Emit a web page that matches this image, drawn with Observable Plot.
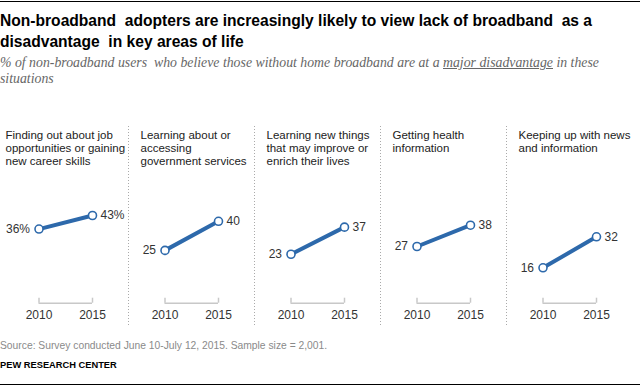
<!DOCTYPE html>
<html>
<head>
<meta charset="utf-8">
<script src="https://cdn.jsdelivr.net/npm/d3@7"></script>
<script src="https://cdn.jsdelivr.net/npm/@observablehq/plot@0.6"></script>
<style>
  html, body { margin: 0; padding: 0; background: #fff; }
  #wrap { position: relative; width: 640px; height: 387px; overflow: hidden; background: #fff; }
  .rule { position: absolute; left: 0; width: 640px; background: #000; }
  .tline { position: absolute; left: 0; font-family: "Liberation Sans", Arial, sans-serif; font-weight: bold; font-size: 17px; line-height: 20.4px; color: #000; white-space: pre; transform-origin: 0 0; }
  .sline { position: absolute; left: 0; font-family: "Liberation Serif", serif; font-style: italic; font-size: 13.8px; line-height: 16.5px; color: #666; white-space: pre; }
  #chart { position: absolute; left: 0; top: 100px; }
  #source { position: absolute; left: 0; top: 340.4px; font-family: "Liberation Sans", Arial, sans-serif; font-size: 10.3px; line-height: 12px; color: #8a8a8a; white-space: pre; }
  #credit { position: absolute; left: 0; top: 359.6px; font-family: "Liberation Sans", Arial, sans-serif; font-weight: bold; font-size: 9.3px; line-height: 11px; color: #000; white-space: pre; }
</style>
</head>
<body>
<div id="wrap">
  <div class="rule" style="top:1px;height:1px"></div>
  <div id="t1" class="tline" style="top:11.2px"></div>
  <div id="t2" class="tline" style="top:31.6px"></div>
  <div id="s1" class="sline" style="top:54.7px"></div>
  <div id="s2" class="sline" style="top:71.2px"></div>
  <div id="chart"></div>
  <div id="source"></div>
  <div id="credit"></div>
  <div class="rule" style="top:384px;height:1px"></div>
</div>
<script>
// ---- data ----
const titleLines = [
  "Non-broadband  adopters are increasingly likely to view lack of broadband  as a",
  "disadvantage  in key areas of life"
];
const subtitleLine1 = ["% of non-broadband users  who believe those without home broadband are at a ", "major disadvantage", " in these"];
const subtitleLine2 = "situations";
const categories = [
  "Finding out about job\nopportunities or gaining\nnew career skills",
  "Learning about or\naccessing\ngovernment services",
  "Learning new things\nthat may improve or\nenrich their lives",
  "Getting health\ninformation",
  "Keeping up with news\nand information"
];
const years = [2010, 2015];
const values2010 = [36, 25, 23, 27, 16];
const values2015 = [43, 40, 37, 38, 32];
const sourceText = "Source: Survey conducted June 10-July 12, 2015. Sample size = 2,001.";
const creditText = "PEW RESEARCH CENTER";

// ---- header text ----
const t1 = document.getElementById("t1"), t2 = document.getElementById("t2");
t1.textContent = titleLines[0];
t2.textContent = titleLines[1];
// condense the bold title to the reference's narrow face
const titleWidth = 592;
const sx = Math.min(1, titleWidth / t1.getBoundingClientRect().width);
t1.style.transform = t2.style.transform = `scaleX(${sx})`;

const s1 = document.getElementById("s1");
subtitleLine1.forEach((p, i) => {
  const sp = document.createElement("span");
  sp.textContent = p;
  if (i === 1) sp.style.textDecoration = "underline";
  s1.append(sp);
});
document.getElementById("s2").textContent = subtitleLine2;
document.getElementById("source").textContent = sourceText;
document.getElementById("credit").textContent = creditText;

// ---- table ----
const rows = [];
categories.forEach((c, i) => {
  rows.push({cat: c, idx: i, year: years[0], value: values2010[i]});
  rows.push({cat: c, idx: i, year: years[1], value: values2015[i]});
});
const fmt = d => d.idx === 0 ? d.value + "%" : String(d.value);

const blue = "#2d69ab";
const font = "Liberation Sans, Arial, sans-serif";

const chart = Plot.plot({
  width: 640,
  height: 230,
  marginTop: 26,
  marginBottom: 5,
  marginLeft: 0,
  marginRight: 7,
  style: {fontFamily: font, fontSize: "12px", color: "#333", background: "transparent"},
  fx: {domain: categories, padding: 0, axis: null},
  x: {domain: years, range: [36.5, 90], axis: null},
  y: {domain: [0, 50], range: [198.3, 101.45], axis: null},
  marks: [
    // dotted dividers between panels
    Plot.ruleX(categories.slice(1), {fx: d => d, x: () => years[0], dx: -36.5, stroke: "#aaa", strokeWidth: 1, strokeDasharray: "1,2"}),
    // panel titles
    Plot.text(categories.slice(0, 1), {fx: d => d, text: d => d, frameAnchor: "top-left", textAnchor: "start", lineAnchor: "top", dx: 3, dy: 2.8, lineHeight: 1.15, fontSize: 11.5, fill: "#222"}),
    Plot.text(categories.slice(1), {fx: d => d, text: d => d, frameAnchor: "top-left", textAnchor: "start", lineAnchor: "top", dx: 12, dy: 2.8, lineHeight: 1.15, fontSize: 11.5, fill: "#222"}),
    // bracket axis
    Plot.ruleY(categories, {fx: d => d, y: () => 0, x1: () => years[0], x2: () => years[1], dy: 4.4, stroke: "#c8c8c8", strokeWidth: 1.5}),
    Plot.ruleX(rows, {fx: "cat", x: "year", y1: () => 0, y2: () => 0, insetTop: -5, dy: 4.4, stroke: "#c8c8c8", strokeWidth: 1.5}),
    Plot.text(rows, {fx: "cat", x: "year", y: () => 0, dy: 16.7, text: d => String(d.year), fontSize: 12, fill: "#333"}),
    // lines and dots
    Plot.line(rows, {fx: "cat", x: "year", y: "value", z: "cat", stroke: blue, strokeWidth: 4}),
    Plot.dot(rows, {fx: "cat", x: "year", y: "value", r: 4, fill: "white", stroke: blue, strokeWidth: 1.6}),
    // value labels
    Plot.text(rows.filter(d => d.year === years[0]), {fx: "cat", x: "year", y: "value", text: fmt, textAnchor: "end", dx: -9, fontSize: 12, fill: "#333"}),
    Plot.text(rows.filter(d => d.year === years[1]), {fx: "cat", x: "year", y: "value", text: fmt, textAnchor: "start", dx: 8, fontSize: 12, fill: "#333"})
  ]
});
document.getElementById("chart").append(chart);
</script>
</body>
</html>
